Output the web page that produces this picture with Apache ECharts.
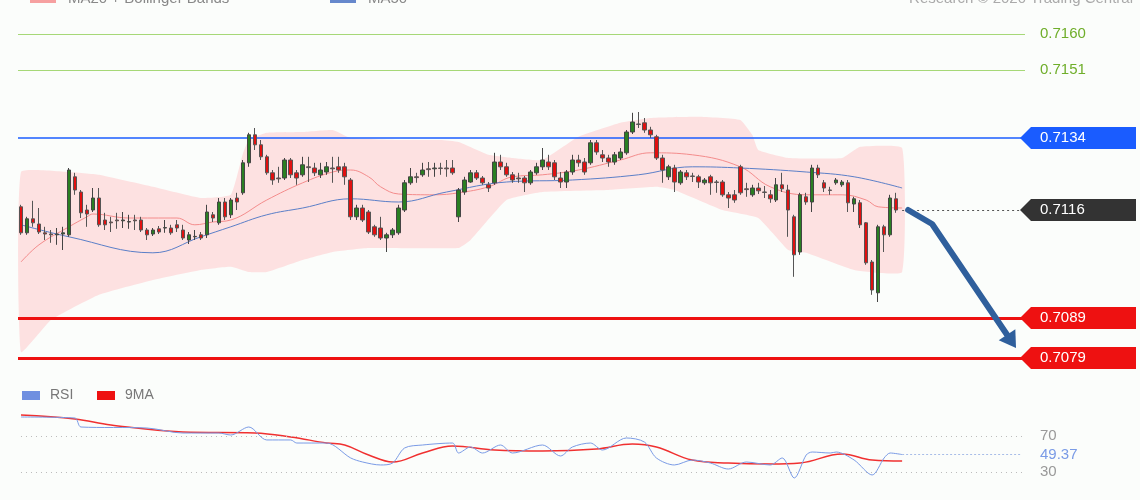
<!DOCTYPE html>
<html><head><meta charset="utf-8">
<script src="https://cdn.jsdelivr.net/npm/echarts@6/dist/echarts.min.js"></script>
<style>html,body{margin:0;padding:0;background:#fbfdfb}#c{width:1140px;height:500px}</style>
</head><body><div id="c"></div>
<script>
// OHLC as [open, close, low, high]
const candles = [
[.71168,.71103,.71098,.71173],[.71103,.71138,.71098,.71143],[.71138,.71128,.71118,.71183],[.71125,.71105,.71100,.71165],
[.71103,.71100,.71085,.71118],[.71100,.71098,.71078,.71110],[.71098,.71100,.71073,.71115],[.71100,.71103,.71060,.71118],
[.71098,.71260,.71093,.71265],[.71243,.71210,.71198,.71253],[.71205,.71153,.71140,.71210],[.71160,.71150,.71118,.71173],
[.71160,.71190,.71155,.71215],[.71190,.71123,.71118,.71215],[.71135,.71123,.71110,.71153],[.71130,.71128,.71105,.71143],
[.71135,.71133,.71113,.71153],[.71133,.71135,.71115,.71155],[.71130,.71131,.71113,.71148],[.71135,.71133,.71110,.71148],
[.71135,.71110,.71105,.71143],[.71110,.71098,.71085,.71115],[.71100,.71110,.71095,.71115],[.71113,.71105,.71100,.71120],
[.71115,.71116,.71103,.71135],[.71115,.71103,.71098,.71123],[.71123,.71115,.71105,.71135],[.71110,.71090,.71085,.71123],
[.71085,.71098,.71075,.71105],[.71093,.71094,.71085,.71110],[.71098,.71090,.71085,.71105],[.71098,.71155,.71090,.71173],
[.71148,.71140,.71130,.71155],[.71128,.71180,.71123,.71190],[.71180,.71143,.71135,.71190],[.71148,.71185,.71140,.71190],
[.71190,.71180,.71160,.71203],[.71203,.71278,.71198,.71285],[.71278,.71348,.71268,.71353],[.71348,.71323,.71310,.71365],
[.71323,.71293,.71285,.71335],[.71293,.71253,.71248,.71298],[.71253,.71235,.71223,.71260],[.71240,.71238,.71228,.71268],
[.71240,.71285,.71235,.71290],[.71285,.71248,.71240,.71290],[.71253,.71240,.71223,.71260],[.71248,.71273,.71243,.71293],
[.71268,.71266,.71230,.71293],[.71265,.71253,.71245,.71278],[.71248,.71260,.71240,.71278],[.71255,.71268,.71248,.71280],
[.71265,.71263,.71228,.71293],[.71268,.71260,.71253,.71293],[.71268,.71243,.71223,.71278],[.71235,.71143,.71135,.71240],
[.71143,.71165,.71135,.71173],[.71165,.71135,.71130,.71173],[.71155,.71105,.71100,.71160],[.71118,.71098,.71093,.71123],
[.71115,.71090,.71085,.71143],[.71090,.71098,.71055,.71103],[.71098,.71110,.71090,.71115],[.71103,.71165,.71098,.71173],
[.71160,.71228,.71155,.71235],[.71228,.71243,.71223,.71265],[.71243,.71241,.71228,.71253],[.71248,.71260,.71243,.71278],
[.71263,.71261,.71243,.71280],[.71263,.71265,.71243,.71278],[.71265,.71264,.71248,.71278],[.71265,.71263,.71243,.71285],
[.71265,.71253,.71248,.71285],[.71143,.71210,.71130,.71215],[.71205,.71235,.71198,.71243],[.71230,.71253,.71228,.71260],
[.71253,.71240,.71235,.71260],[.71240,.71228,.71223,.71245],[.71223,.71215,.71205,.71230],[.71228,.71280,.71223,.71303],
[.71280,.71268,.71260,.71298],[.71268,.71248,.71243,.71278],[.71248,.71235,.71228,.71255],[.71240,.71238,.71228,.71253],
[.71240,.71228,.71205,.71245],[.71228,.71255,.71223,.71260],[.71253,.71268,.71248,.71278],[.71268,.71285,.71260,.71315],
[.71280,.71268,.71260,.71298],[.71278,.71243,.71235,.71285],[.71240,.71230,.71215,.71255],[.71230,.71255,.71215,.71260],
[.71255,.71285,.71248,.71298],[.71285,.71278,.71268,.71298],[.71280,.71255,.71248,.71290],[.71278,.71328,.71273,.71335],
[.71328,.71305,.71298,.71335],[.71298,.71290,.71280,.71310],[.71290,.71280,.71268,.71298],[.71280,.71298,.71273,.71305],
[.71290,.71305,.71285,.71315],[.71303,.71355,.71298,.71360],[.71355,.71380,.71350,.71403],[.71375,.71374,.71365,.71405],
[.71378,.71360,.71353,.71390],[.71360,.71348,.71340,.71368],[.71343,.71290,.71285,.71348],[.71290,.71260,.71228,.71298],
[.71243,.71268,.71235,.71273],[.71265,.71230,.71205,.71273],[.71228,.71255,.71223,.71260],
[.71253,.71243,.71235,.71260],[.71245,.71244,.71230,.71253],[.71243,.71230,.71215,.71248],[.71228,.71235,.71223,.71240],
[.71243,.71228,.71198,.71248],[.71230,.71229,.71203,.71235],[.71230,.71198,.71193,.71235],[.71198,.71190,.71165,.71205],
[.71198,.71185,.71178,.71210],[.71268,.71203,.71198,.71273],[.71213,.71211,.71193,.71228],[.71198,.71215,.71193,.71223],
[.71215,.71208,.71200,.71228],[.71205,.71204,.71190,.71220],[.71198,.71188,.71178,.71210],[.71185,.71223,.71180,.71240],
[.71223,.71213,.71205,.71253],[.71210,.71160,.71093,.71223],[.71143,.71048,.70993,.71148],[.71055,.71198,.71048,.71203],
[.71193,.71180,.71173,.71203],[.71180,.71265,.71155,.71273],[.71265,.71248,.71240,.71273],[.71228,.71215,.71205,.71235],
[.71210,.71209,.71198,.71218],[.71228,.71235,.71223,.71240],[.71223,.71230,.71218,.71235],[.71228,.71178,.71155,.71235],
[.71175,.71188,.71155,.71193],[.71178,.71123,.71115,.71185],[.71128,.71028,.71023,.71130],[.71030,.70960,.70948,.71035],
[.70953,.71118,.70930,.71123],[.71118,.71098,.71055,.71123],[.71098,.71190,.71093,.71198],[.71188,.71160,.71153,.71203]
];
// [index, value] sparse readings
const ma20 = [[0,.71030],[3,.71073],[8,.71118],[11,.71143],[12,.71150],[18,.71140],[26,.71140],[29,.71123],[32,.71130],[35,.71135],[41,.71185],[47,.71228],[52,.71255],[55,.71260],[58,.71243],[60,.71218],[63,.71200],[69,.71198],[73,.71203],[78,.71218],[82,.71243],[87,.71248],[93,.71260],[100,.71285],[105,.71303],[112,.71298],[120,.71268],[125,.71218],[131,.71198],[137,.71198],[141,.71185],[143,.71168],[147,.71165]];
const ma50 = [[0,.71123],[8,.71093],[22,.71053],[30,.71093],[35,.71118],[41,.71148],[47,.71165],[55,.71188],[63,.71180],[71,.71205],[81,.71230],[92,.71235],[103,.71248],[112,.71268],[120,.71265],[131,.71255],[139,.71243],[147,.71215]];
const bandUpper = [[0,.71255],[8,.71255],[13,.71248],[22,.71218],[30,.71190],[35,.71198],[37,.71300],[38,.71335],[41,.71353],[47,.71355],[52,.71360],[55,.71340],[63,.71335],[70,.71335],[73,.71330],[78,.71298],[82,.71290],[87,.71285],[93,.71343],[100,.71378],[105,.71390],[113,.71393],[120,.71385],[122,.71348],[123,.71310],[128,.71290],[137,.71290],[140,.71318],[147,.71315]];
const bandLower = [[0,.70805],[5,.70885],[13,.70948],[22,.70985],[30,.71010],[35,.71018],[38,.71005],[41,.71005],[47,.71035],[52,.71055],[58,.71065],[73,.71065],[75,.71085],[81,.71185],[87,.71205],[98,.71210],[106,.71218],[109,.71210],[117,.71160],[123,.71140],[128,.71060],[131,.71053],[139,.71010],[147,.71005]];
const rsi = [[0,91.1],[9,90],[10,80],[21,78.9],[27,73.3],[33,73.3],[35,71.1],[38,80],[41,65.6],[45,65.6],[46,62.2],[51,62.2],[55,45.6],[57,41.1],[60,37.8],[62,40],[64,56.7],[67,60],[72,62.2],[73,51.1],[75,57.8],[77,51.1],[80,60],[82,51.1],[87,60],[90,47.8],[92,57.8],[95,62.2],[97,54.4],[101,67.8],[104,63.3],[106,45.6],[109,37.8],[112,43.3],[115,40],[118,33.3],[121,41.1],[125,37.8],[127,45.6],[129,23.3],[131,48.9],[132,52.2],[135,51.1],[136,52.2],[139,43.3],[142,26.7],[144,45.6],[145,51.1],[147,49.37]];
const rsiMA = [[0,93.3],[9,88.9],[15,82.2],[27,74.4],[39,73.3],[45,68.9],[51,62.2],[54,60],[58,48.9],[62,41.1],[67,51.1],[72,58.9],[79,54.4],[87,53.3],[96,55.6],[102,61.1],[106,57.8],[112,43.3],[118,40],[125,38.9],[130,40],[137,50],[142,43.3],[147,42.2]];
const levels = [0.7160, 0.7151, 0.7134, 0.7116, 0.7089, 0.7079];
const levelLabels = ['0.7160','0.7151','0.7134','0.7116','0.7089','0.7079'];
const rsiLevels = [70, 49.37, 30];
const rsiLabels = ['70','49.37','30'];
const arrowPath = [[148,0.71160],[152,0.71125],[166,0.70815]];
const nCats = 168;
const cats = Array.from({length:nCats},(_, i)=>String(i+1));

const chart = echarts.init(document.getElementById('c'));
const lvlStyle = [
 {color:'#a6d877',width:1.2,type:'solid'},{color:'#a6d877',width:1.2,type:'solid'},
 {color:'#1a5cff',width:1.5,type:'solid'},null,
 {color:'#ee1111',width:3,type:'solid'},{color:'#ee1111',width:3,type:'solid'}];
const mlData = [];
levels.forEach((v,i)=>{ if(lvlStyle[i]) mlData.push([{coord:[0,v],x:18,lineStyle:lvlStyle[i]},{coord:[nCats-1,v],x:1025}]); });
mlData.push([{coord:[147,levels[3]],lineStyle:{color:'#555',width:1,type:[2,3]}},{coord:[nCats-1,levels[3]]}]);

chart.setOption({
 animation:false,
 backgroundColor:'#fbfdfb',
 grid:[{left:18,right:115,top:20,height:350},{left:18,right:115,top:409,height:90}],
 xAxis:[{type:'category',data:cats,gridIndex:0,show:false},{type:'category',data:cats,gridIndex:1,show:false}],
 yAxis:[{type:'value',gridIndex:0,min:0.70760,max:0.71635,show:false,splitLine:{show:false}},
        {type:'value',gridIndex:1,min:0,max:100,show:false,splitLine:{show:false}}],
 series:[
  {type:'custom',xAxisIndex:0,yAxisIndex:0,data:[0],silent:true,z:1,
   renderItem:(p,api)=>{
     const pts=[];
     bandUpper.forEach(d=>pts.push(api.coord(d)));
     for(let i=bandLower.length-1;i>=0;i--) pts.push(api.coord(bandLower[i]));
     return {type:'polygon',shape:{points:pts,smooth:0.12},style:{fill:'#fde1e1',stroke:null}};
   }},
  {type:'line',data:ma20,smooth:0.4,symbol:'none',lineStyle:{color:'#f48c8c',width:1},z:3,silent:true,
   markLine:{symbol:'none',silent:true,label:{show:false},data:mlData,z:2}},
  {type:'line',data:ma50,smooth:0.4,symbol:'none',lineStyle:{color:'#5b7fc8',width:1},z:3,silent:true},
  {type:'candlestick',data:candles,barWidth:4,z:4,
   itemStyle:{color:'#2a7f22',color0:'#e01010',borderColor:'#444',borderColor0:'#555',borderWidth:1}},
  {type:'line',xAxisIndex:1,yAxisIndex:1,data:rsi,smooth:0.3,symbol:'none',lineStyle:{color:'#7a9be6',width:1},z:3,
   markLine:{symbol:'none',silent:true,label:{show:false},data:[
     [{coord:[0,70],lineStyle:{color:'#bbb',type:[1,4],width:1}},{coord:[nCats-1,70]}],
     [{coord:[0,30],lineStyle:{color:'#bbb',type:[1,4],width:1}},{coord:[nCats-1,30]}],
     [{coord:[147,49.37],lineStyle:{color:'#a8bde8',type:[2,2],width:1}},{coord:[nCats-1,49.37]}]]}},
  {type:'line',xAxisIndex:1,yAxisIndex:1,data:rsiMA,smooth:0.4,symbol:'none',lineStyle:{color:'#f03030',width:1.5},z:2}
 ]
});

const g=[];
const tf='"Liberation Sans", Arial, sans-serif';
g.push({type:'rect',shape:{x:30,y:-4,width:26,height:7},style:{fill:'#f6a0a0'}});
g.push({type:'text',style:{x:68,y:-9,text:'MA20 + Bollinger Bands',fill:'#888',font:'15px '+tf}});
g.push({type:'rect',shape:{x:330,y:-4,width:26,height:7},style:{fill:'#6688cc'}});
g.push({type:'text',style:{x:368,y:-9,text:'MA50',fill:'#888',font:'15px '+tf}});
g.push({type:'text',style:{x:1133,y:-9,text:'Research © 2020 Trading Central',fill:'#aaa',font:'15px '+tf,align:'right'}});
g.push({type:'rect',shape:{x:22,y:391,width:18,height:9},style:{fill:'#6f8fe0'}});
g.push({type:'text',style:{x:50,y:388,text:'RSI',fill:'#777',font:'14px '+tf}});
g.push({type:'rect',shape:{x:97,y:391,width:18,height:9},style:{fill:'#ee1111'}});
g.push({type:'text',style:{x:125,y:388,text:'9MA',fill:'#777',font:'14px '+tf}});
const boxCol=[null,null,'#1a5cff','#333333','#ee1111','#ee1111'];
levels.forEach((v,i)=>{
  const y=chart.convertToPixel({yAxisIndex:0},v);
  if(boxCol[i]){
    g.push({type:'polygon',shape:{points:[[1020,y],[1031,y-11],[1136,y-11],[1136,y+11],[1031,y+11]]},style:{fill:boxCol[i]}});
    g.push({type:'text',style:{x:1040,y:y,text:levelLabels[i],fill:'#fff',font:'15px '+tf,verticalAlign:'middle'}});
  } else {
    g.push({type:'text',style:{x:1040,y:y,text:levelLabels[i],fill:'#6fae2a',font:'15px '+tf,verticalAlign:'middle'}});
  }
});
const rsiCol=['#999','#7a9be6','#999'];
rsiLevels.forEach((v,i)=>{
  const y=chart.convertToPixel({xAxisIndex:1,yAxisIndex:1},[0,v])[1];
  g.push({type:'text',style:{x:1040,y:y,text:rsiLabels[i],fill:rsiCol[i],font:'15px '+tf,verticalAlign:'middle'}});
});
const ap=arrowPath.map(d=>chart.convertToPixel({seriesIndex:3},d));
const n=ap.length, e=ap[n-1], s=ap[n-2];
const dx=e[0]-s[0], dy=e[1]-s[1], L=Math.hypot(dx,dy), ux=dx/L, uy=dy/L;
const base=[e[0]-ux*16,e[1]-uy*16];
const body=ap.slice(0,n-1).concat([base]);
g.push({type:'polyline',shape:{points:body},style:{stroke:'#2f5f9c',lineWidth:6,lineCap:'round',lineJoin:'round',fill:null},z:20});
g.push({type:'polygon',shape:{points:[e,[base[0]-uy*10,base[1]+ux*10],[base[0]+uy*10,base[1]-ux*10]]},style:{fill:'#2f5f9c'},z:20});
chart.setOption({graphic:g});
</script></body></html>
